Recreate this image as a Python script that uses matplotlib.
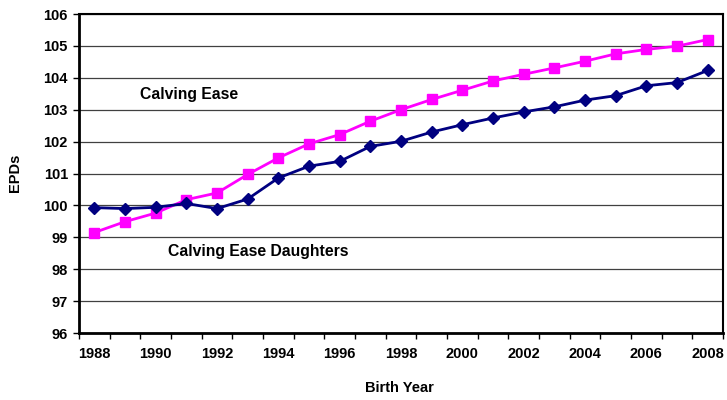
import matplotlib.pyplot as plt

# data
years = list(range(1988, 2009))
calving_ease = [99.15, 99.49, 99.76, 100.18, 100.39, 100.97, 101.49, 101.93, 102.22, 102.64,
                103.00, 103.32, 103.61, 103.90, 104.11, 104.31, 104.52, 104.75, 104.89, 104.99, 105.20]
ce_daughters = [99.93, 99.90, 99.94, 100.06, 99.90, 100.20, 100.86, 101.23, 101.38, 101.85,
                102.01, 102.30, 102.53, 102.74, 102.93, 103.09, 103.30, 103.44, 103.75, 103.85, 104.23]
y_ticks = list(range(96, 107))

plt.rcParams['font.family'] = ['Liberation Sans', 'DejaVu Sans']
plt.rcParams['font.weight'] = 'bold'

fig = plt.figure(figsize=(7.27, 4.0), dpi=100)
ax = fig.add_axes([0.1087, 0.1675, 0.8858, 0.7975])

x = list(range(len(years)))
ax.plot(x, calving_ease, color='#FF00FF', lw=2, marker='s', ms=7, zorder=3)
ax.plot(x, ce_daughters, color='#000080', lw=2, marker='D', ms=6.2, zorder=3)

ax.set_xlim(-0.5, len(years) - 0.5)
ax.set_ylim(96, 106)
ax.set_yticks(y_ticks)
ax.set_yticklabels([str(v) for v in y_ticks], fontsize=10.5, fontweight='bold')
ax.set_xticks(x[::2])
ax.set_xticklabels([str(y) for y in years[::2]], fontsize=10.5, fontweight='bold')
ax.set_xticks([i - 0.5 for i in range(len(years) + 1)], minor=True)
ax.tick_params(axis='x', which='major', length=0, pad=10)
ax.tick_params(axis='x', which='minor', length=4, width=1, direction='out')
ax.tick_params(axis='y', length=4, width=1, direction='out', pad=4)

ax.yaxis.grid(True, color='#404040', lw=0.9)
ax.set_axisbelow(True)
ax.spines['left'].set_linewidth(2)
ax.spines['bottom'].set_linewidth(2)
ax.spines['top'].set_linewidth(1.5)
ax.spines['right'].set_linewidth(1.5)

ax.text(0.095, 0.749, 'Calving Ease', transform=ax.transAxes, fontsize=11.3,
        fontweight='bold', va='center')
ax.text(0.138, 0.257, 'Calving Ease Daughters', transform=ax.transAxes, fontsize=11.3,
        fontweight='bold', va='center')

fig.text(0.55, 0.03, 'Birth Year', fontsize=10.5, fontweight='bold', ha='center', va='center')
fig.text(0.02, 0.567, 'EPDs', rotation=90, fontsize=10.5, fontweight='bold', ha='center', va='center')

fig.savefig('out.png', dpi=100)
